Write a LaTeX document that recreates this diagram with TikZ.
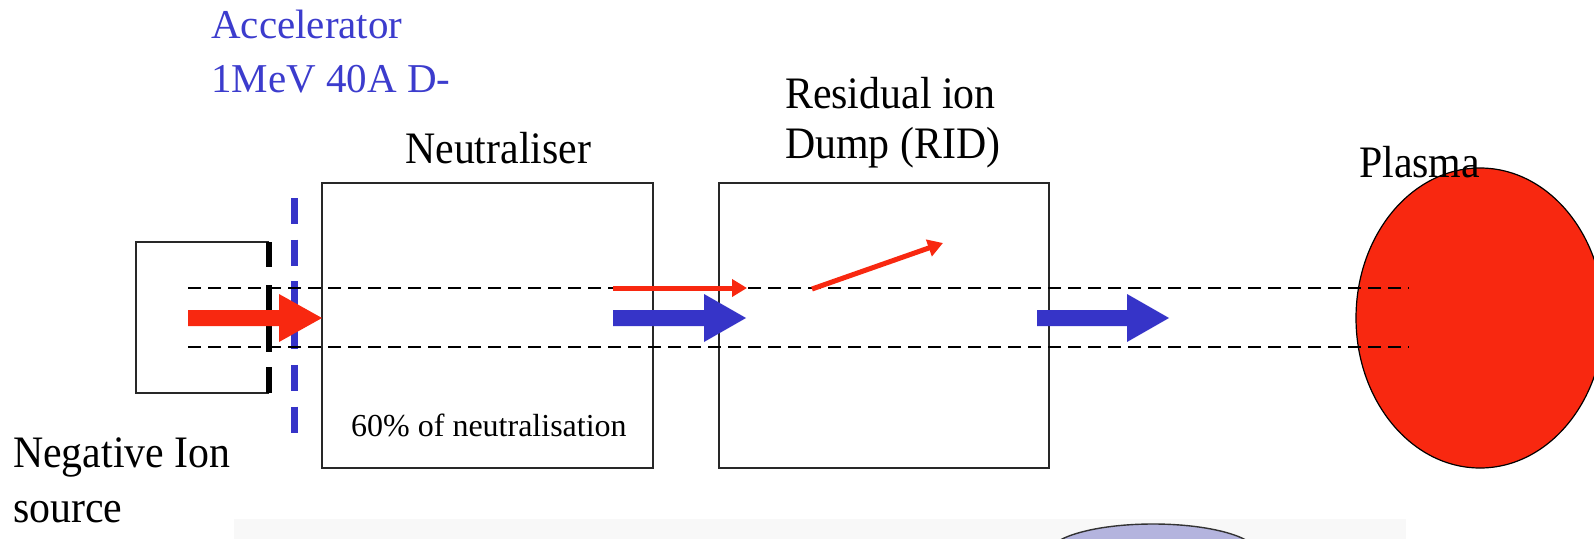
\documentclass[tikz,border=0pt]{standalone}
\usepackage{fontspec}
\setmainfont{Liberation Serif}
\newfontfamily\labelfont{Liberation Serif}
\newfontfamily\tallfont[FakeStretch=0.93]{Liberation Serif}
\usetikzlibrary{arrows.meta}

\definecolor{beamred}{RGB}{248,40,16}
\definecolor{beamblue}{RGB}{54,52,200}
\definecolor{acctext}{RGB}{60,60,205}
\definecolor{lilac}{RGB}{180,180,222}
\definecolor{bandgray}{RGB}{248,248,248}
\definecolor{boxline}{RGB}{40,40,40}

% Wide beam arrow: tail x, head start x, tip x, axis y, colour
\newcommand\beamarrow[5]{%
  \fill[#5] (#1,#4-8) -- (#2,#4-8) -- (#2,#4-24) -- (#3,#4)
    -- (#2,#4+24) -- (#2,#4+8) -- (#1,#4+8) -- cycle;}

\begin{document}
\begin{tikzpicture}[x=1pt,y=-1pt,
  box/.style={draw=boxline, line width=1.4pt, inner sep=0pt},
  txt/.style={inner sep=0pt, anchor=base west, font=\tallfont\fontsize{45}{52}\selectfont},
  acctxt/.style={txt, text=acctext, font=\labelfont\fontsize{41}{50}\selectfont},
  smalltxt/.style={txt, font=\labelfont\fontsize{32}{38}\selectfont},
  envelope/.style={draw=black, line width=1.8pt, dash pattern=on 13pt off 7pt},
  gridbar/.style={draw=black, line width=6pt},
  accgrid/.style={draw=beamblue, line width=7pt, dash pattern=on 26pt off 15.7pt},
  thinbeam/.style={draw=beamred, line width=5pt, -{Triangle[length=15pt,width=17pt]}}]

\clip (0,0) rectangle (1594,538);
\fill[white] (0,0) rectangle (1594,538);

% lower band with the top of a lilac disc
\fill[bandgray] (234,519) rectangle (1406,540);
\draw[fill=lilac, draw=black!80, line width=1.4pt] (1153,554) ellipse [x radius=105, y radius=30];

% plasma
\draw[fill=beamred, draw=black, line width=1.2pt] (1480,318) ellipse [x radius=124, y radius=150];

% neutraliser and residual ion dump
\node[box, minimum width=331, minimum height=285] (neut) at (487.5,325.5) {};
\node[box, minimum width=330, minimum height=285] (rid) at (884,325.5) {};

% ion source box, open on the grid side
\draw[boxline, line width=1.4pt] (269,242) -- (136,242) -- (136,393) -- (269,393);
\draw[gridbar] (269,242) -- (269,267);
\draw[gridbar] (269,285) -- (269,352);
\draw[gridbar] (269,367) -- (269,393);

% accelerator grid
\draw[accgrid] (294,198) -- (294,433);

% beam envelope
\draw[envelope] (188,288) -- (1409,288);
\draw[envelope] (188,347) -- (1409,347);

% beams
\beamarrow{188}{279}{322}{318}{beamred}
\beamarrow{613}{704}{746}{318}{beamblue}
\beamarrow{1037}{1127}{1169}{318}{beamblue}

\coordinate (ionA) at (613,288);
\coordinate (ionB) at (747,288);
\draw[thinbeam] (ionA) -- (ionB);
\coordinate (ionC) at (812,289);
\coordinate (ionD) at (943,243);
\draw[thinbeam] (ionC) -- (ionD);

% labels
\node[acctxt] (acc1) at (211,38) {Accelerator};
\node[acctxt] (acc2) at (211,92) {1MeV 40A D-};
\node[txt] (neutlbl) at (405,163) {Neutraliser};
\node[txt] (rid1) at (785,108) {Residual ion};
\node[txt] (rid2) at (785,158) {Dump (RID)};
\node[txt] (plasma) at (1359,177) {Plasma};
\node[smalltxt] (pct) at (351,436) {60\% of neutralisation};
\node[txt] (src1) at (13,467) {Negative Ion};
\node[txt] (src2) at (13,522) {source};
\end{tikzpicture}
\end{document}
